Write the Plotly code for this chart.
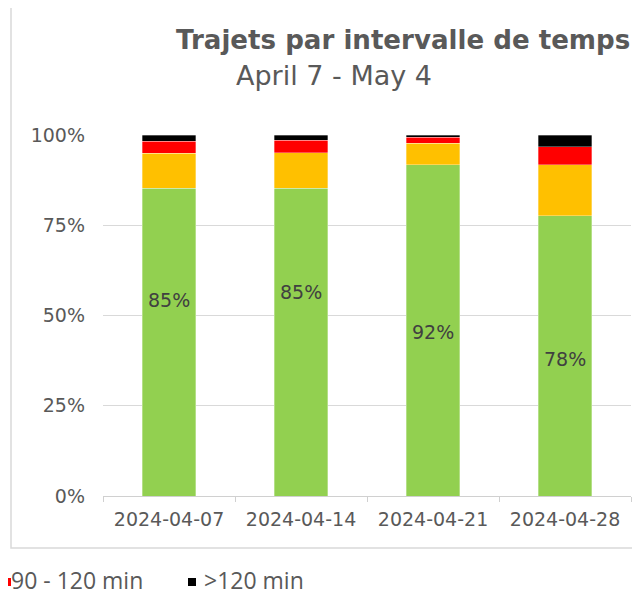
import plotly.graph_objects as go

weeks = ["2024-04-07", "2024-04-14", "2024-04-21", "2024-04-28"]
series_names = ["< 60 min", "60 - 90 min", "90 - 120 min", ">120 min"]
under_60 = [85.2, 85.2, 91.7, 77.6]
from_60_90 = [9.7, 9.9, 6.0, 14.2]
from_90_120 = [3.4, 3.5, 1.7, 4.9]
over_120 = [1.7, 1.4, 0.6, 3.3]
colors = ["#92D050", "#FFC000", "#FF0000", "#000000"]
label_y = [0.543, 0.565, 0.454, 0.379]  # vertical placement of the green-share labels
y_ticks = [0, 0.25, 0.5, 0.75, 1.0]
y_tick_text = ["0%", "25%", "50%", "75%", "100%"]

W, H = 640, 596
OFF = 8  # page body margin offset
# plot area in page pixels: x 103..631, y 135..496
L, T = 103 - OFF, 135 - OFF
R = W - (631 - OFF)
B = H - (496 - OFF)
PW, PH = W - L - R, H - T - B


def px(x):
    return (x - OFF - L) / PW


def py(y):
    return (H - B - (y - OFF)) / PH


fig = go.Figure()
for name, vals, col in zip(series_names, [under_60, from_60_90, from_90_120, over_120], colors):
    fig.add_trace(go.Bar(
        x=weeks, y=[v / 100 for v in vals], name=name,
        marker=dict(color=col, line=dict(color="rgba(255,255,255,0.45)", width=0.7)),
        width=0.405, showlegend=False, hoverinfo="skip",
    ))

annotations = []
for w, v, ly in zip(weeks, under_60, label_y):
    annotations.append(dict(x=w, y=ly, xref="x", yref="y", text=f"{round(v)}%",
                            showarrow=False, font=dict(family="DejaVu Sans", size=19, color="#404040")))

annotations.append(dict(x=px(174), y=py(40), xref="paper", yref="paper", xanchor="left", yanchor="middle",
                        text="<b>Trajets par intervalle de temps</b>", showarrow=False,
                        font=dict(family="DejaVu Sans", size=26.1, color="#595959")))
annotations.append(dict(x=px(234), y=py(75), xref="paper", yref="paper", xanchor="left", yanchor="middle",
                        text="April 7 - May 4", showarrow=False,
                        font=dict(family="DejaVu Sans", size=27, color="#595959")))

# legend (partially cropped at the left edge like the reference)
legend_items = [(series_names[2], colors[2], 8, 3, 10), (series_names[3], colors[3], 188, 8, 203)]
shapes = []
for name, col, mx, mw, tx in legend_items:
    shapes.append(dict(type="rect", xref="paper", yref="paper", x0=px(mx), x1=px(mx + mw),
                       y0=py(586), y1=py(578), fillcolor=col, line=dict(width=0)))
    annotations.append(dict(x=px(tx), y=py(580), xref="paper", yref="paper", xanchor="left", yanchor="middle",
                            text=name, showarrow=False, borderpad=0,
                            font=dict(family="Open Sans", size=23, color="#595959")))

# chart frame
shapes.append(dict(type="rect", xref="paper", yref="paper", x0=px(11), x1=px(660), y0=py(548), y1=py(4),
                   line=dict(color="#D9D9D9", width=1.5), fillcolor="rgba(0,0,0,0)", layer="below"))

fig.update_layout(
    width=W, height=H, margin=dict(l=L, r=R, t=T, b=B, autoexpand=False),
    barmode="stack", paper_bgcolor="white", plot_bgcolor="white",
    annotations=annotations, shapes=shapes, showlegend=False,
    xaxis=dict(type="category", range=[-0.5, 3.5], showgrid=False, showline=True, linecolor="#D0D0D0",
               linewidth=1, ticks="outside", tickson="boundaries", ticklen=5, tickcolor="#D0D0D0",
               tickfont=dict(family="DejaVu Sans", size=19, color="#595959"), ticklabelstandoff=6,
               zeroline=False, fixedrange=True),
    yaxis=dict(range=[0, 1], tickvals=y_ticks, ticktext=y_tick_text, showgrid=True, gridcolor="#D9D9D9",
               gridwidth=1, zeroline=False, showline=False, ticks="",
               tickfont=dict(family="DejaVu Sans", size=19, color="#595959"), ticklabelstandoff=17,
               fixedrange=True),
)

fig.write_html("out.html")
